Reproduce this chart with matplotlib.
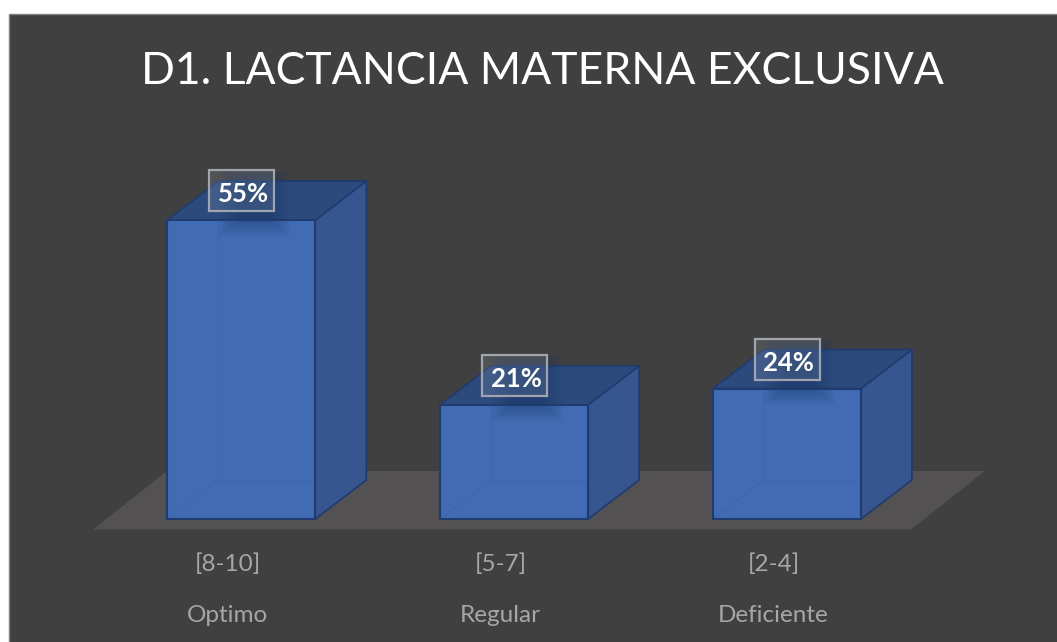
import matplotlib
matplotlib.use("Agg")
import matplotlib.pyplot as plt
from matplotlib.patches import Polygon, Rectangle

plt.rcParams["font.family"] = ["Lato", "DejaVu Sans"]

# chart values
rangos = ["[8-10]", "[5-7]", "[2-4]"]
niveles = ["Optimo", "Regular", "Deficiente"]
porcentajes = [55, 21, 24]
titulo = "D1. LACTANCIA MATERNA EXCLUSIVA"

W, H = 1057, 642
STEP_PX = 272.8    # distance between bars
UNIT_PX = 5.436    # pixels for one percent
X0_PX, Y0_PX = 241.3, 519  # centre of the first bar, baseline

fig = plt.figure(figsize=(W / 100, H / 100), dpi=100, facecolor="white")
ax = fig.add_axes([0, 0, 1, 1])
ax.set_xlim(-X0_PX / STEP_PX, (W - X0_PX) / STEP_PX)
ax.set_ylim((Y0_PX - H) / UNIT_PX, Y0_PX / UNIT_PX)
ax.axis("off")

# everything below is in axis units: x = category, y = percent
bar_w = 148 / STEP_PX
dx = 51 / STEP_PX
dy = 39 / UNIT_PX


def xpx(p):
    return (p - X0_PX) / STEP_PX


def ypx(p):
    return (Y0_PX - p) / UNIT_PX


# dark panel
ax.add_patch(Rectangle((xpx(9), ypx(H + 5)), xpx(W + 5) - xpx(9), ypx(13.5) - ypx(H + 5),
                       fc="#404040", ec="#7f7f7f", lw=1.0, zorder=0))

# floor
ax.add_patch(Polygon([(xpx(93), ypx(529.5)), (xpx(911), ypx(529.5)),
                      (xpx(985), ypx(471)), (xpx(167), ypx(471))],
                     fc="#535151", ec="none", zorder=1))

FRONT = "#416bb2"
SIDE = "#37568f"
TOP = "#2c4a7c"
EDGE = "#1f3b70"

for i, v in enumerate(porcentajes):
    x1 = i - bar_w / 2
    x2 = i + bar_w / 2

    # back edges show faintly through the front face
    ax.add_patch(Polygon([(x1, 0), (x2, 0), (x2, v), (x1, v)], fc=FRONT, ec="none", zorder=2))
    ax.plot([x1 + dx, x1 + dx], [dy, v], color="#3d67af", lw=1.0, zorder=2.1)
    ax.plot([x1 + dx, x2], [dy, dy], color="#3d67af", lw=1.0, zorder=2.1)
    ax.plot([x1, x1 + dx], [0, dy], color="#3d67af", lw=1.0, zorder=2.1)

    # side
    ax.add_patch(Polygon([(x2, 0), (x2 + dx, dy), (x2 + dx, v + dy), (x2, v)],
                         fc=SIDE, ec=EDGE, lw=1.2, zorder=3))
    # top
    ax.add_patch(Polygon([(x1, v), (x2, v), (x2 + dx, v + dy), (x1 + dx, v + dy)],
                         fc=TOP, ec=EDGE, lw=1.2, zorder=3))
    # front outline
    ax.add_patch(Polygon([(x1, 0), (x2, 0), (x2, v), (x1, v)], fc="none", ec=EDGE, lw=1.5, zorder=4))

    # soft shadow behind the value label, falls to the right and down
    cx = i + 0.5 / STEP_PX
    cy = v + 29.5 / UNIT_PX
    sx = cx + 12 / STEP_PX
    for k in range(12):
        grow = k * 2.0
        ax.add_patch(Rectangle((sx - (14 + grow) / STEP_PX, cy - (30 + grow * 0.7) / UNIT_PX),
                               (28 + 2 * grow) / STEP_PX, (44 + grow) / UNIT_PX,
                               fc="#1f3b70", ec="none", alpha=0.045, zorder=3.5))

    # value label box
    ax.add_patch(Rectangle((cx - 32.5 / STEP_PX, cy - 20.5 / UNIT_PX), 65 / STEP_PX, 41 / UNIT_PX,
                           fc=(1, 1, 1, 0.10), ec="#a0a4ab", lw=1.6, zorder=5))
    ax.text(cx + 1.5 / STEP_PX, cy - 1.5 / UNIT_PX, f"{v}%", color="white", fontsize=18.5,
            fontweight="bold", ha="center", va="center_baseline", zorder=6)

    # category labels, two levels
    lx = i - 13.5 / STEP_PX
    ax.text(lx, ypx(564.5), rangos[i], color="#a6a6a6", fontsize=17.5, ha="center", va="center")
    ax.text(lx, ypx(615.5), niveles[i], color="#a6a6a6", fontsize=17.5, ha="center", va="center")

ax.text(xpx(542), ypx(71), titulo, color="white", fontsize=32, ha="center", va="center")

fig.savefig("out.png", dpi=100, facecolor=fig.get_facecolor())
